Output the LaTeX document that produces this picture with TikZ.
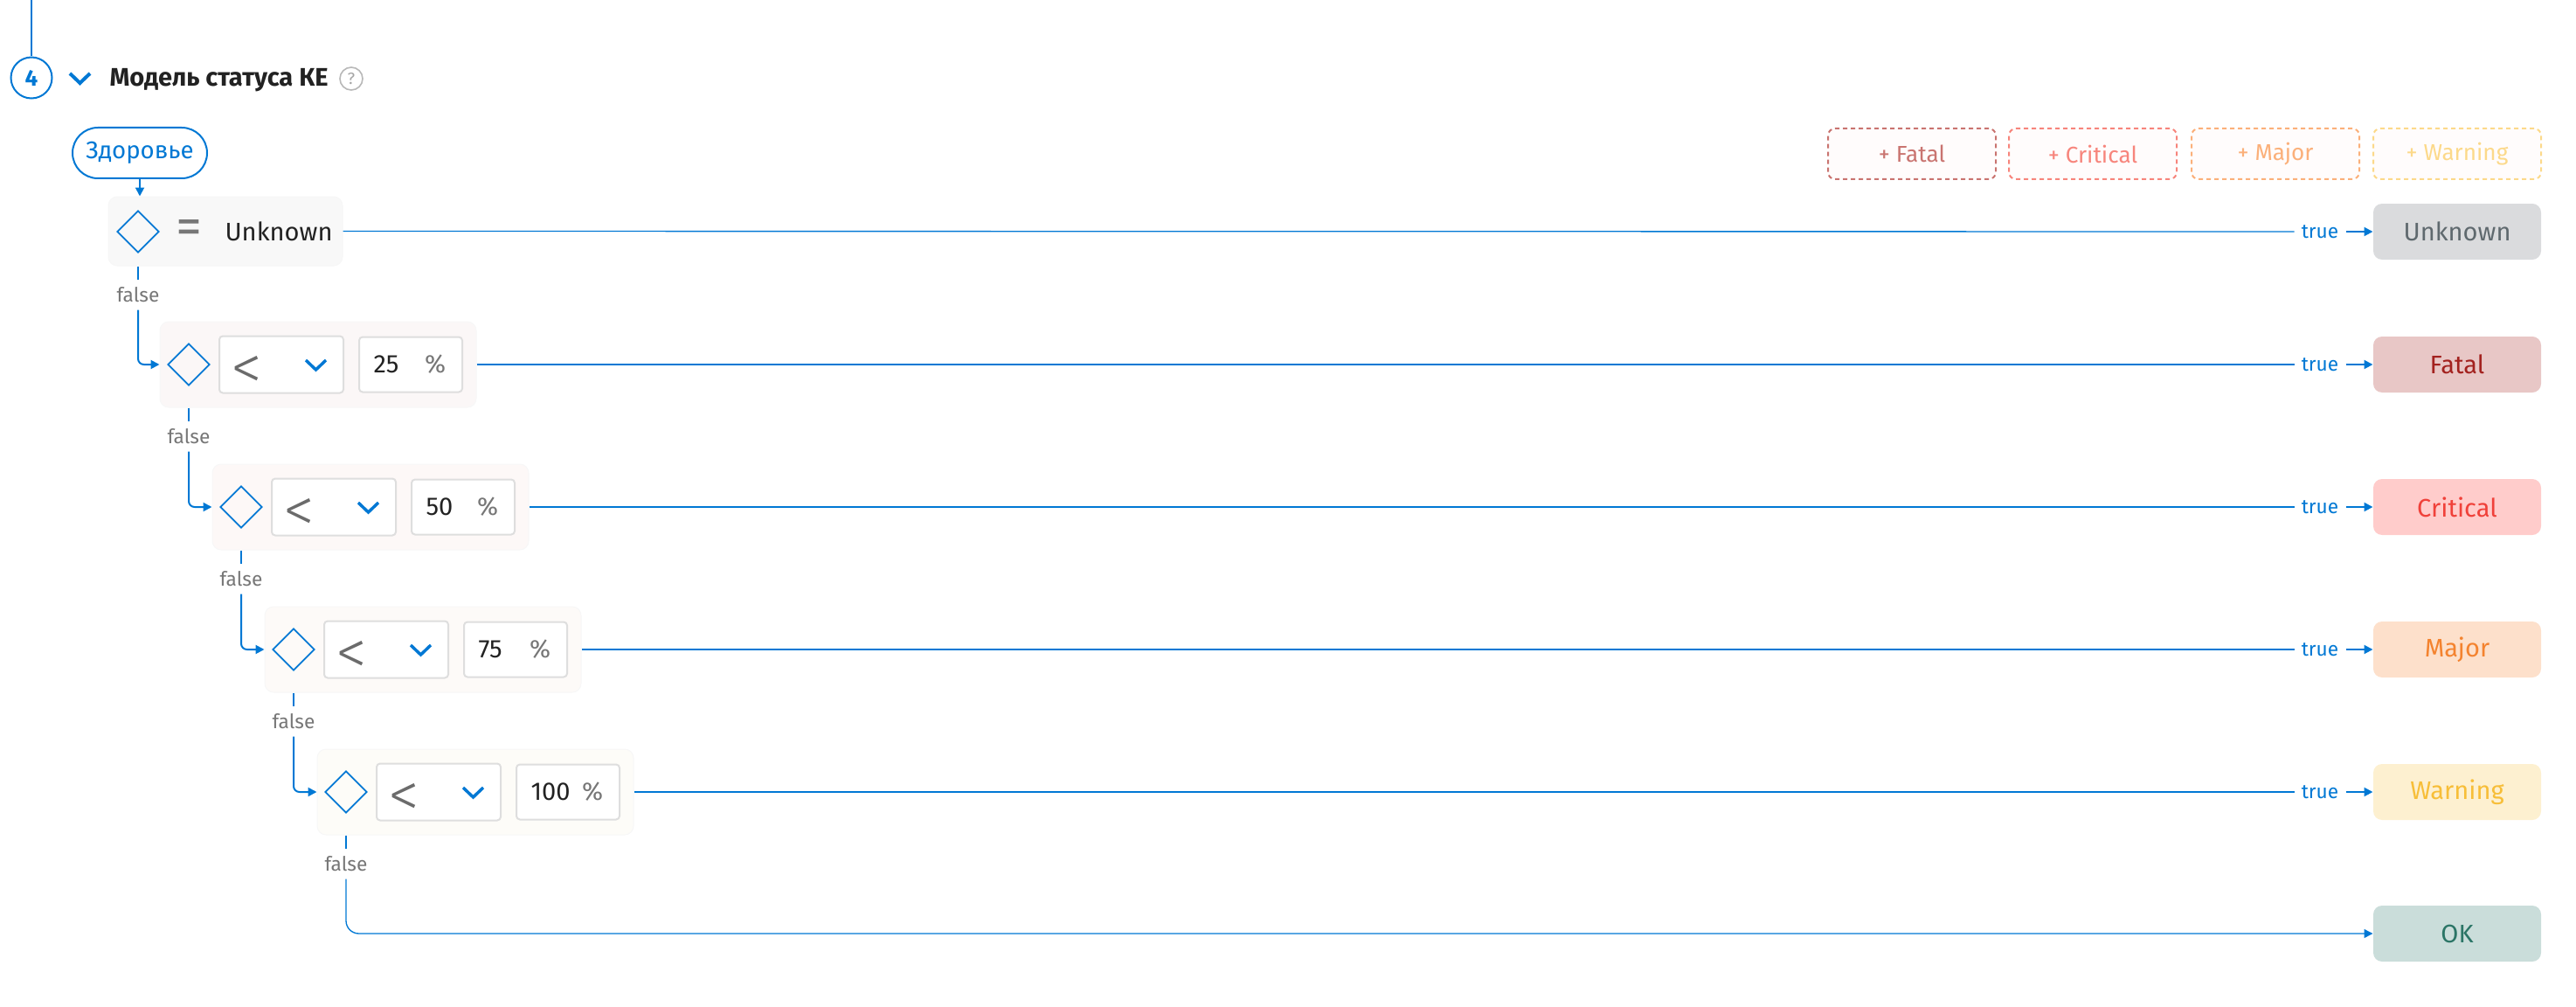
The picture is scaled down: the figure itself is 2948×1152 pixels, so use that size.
\documentclass[tikz,border=0pt]{standalone}
\usepackage{fontspec}
\setmainfont{Fira Sans}
\newfontfamily\lightfont{Fira Sans Light}
\usetikzlibrary{arrows.meta,shapes.geometric}

\definecolor{uiblue}{RGB}{0,120,212}
\definecolor{uitext}{RGB}{34,34,34}
\definecolor{uigray}{RGB}{119,119,119}
\definecolor{uiline}{RGB}{222,222,222}
\definecolor{unkfill}{RGB}{218,219,221}
\definecolor{unktext}{RGB}{95,105,110}
\definecolor{fatfill}{RGB}{232,199,198}
\definecolor{fattext}{RGB}{163,34,31}
\definecolor{crifill}{RGB}{255,204,203}
\definecolor{critext}{RGB}{240,65,58}
\definecolor{majfill}{RGB}{253,224,203}
\definecolor{majtext}{RGB}{244,131,47}
\definecolor{warfill}{RGB}{253,240,208}
\definecolor{wartext}{RGB}{247,190,56}
\definecolor{okfill}{RGB}{202,221,218}
\definecolor{oktext}{RGB}{43,117,102}
\definecolor{fatdash}{RGB}{201,116,112}
\definecolor{cridash}{RGB}{247,133,124}
\definecolor{majdash}{RGB}{251,176,122}
\definecolor{wardash}{RGB}{252,217,138}
\definecolor{row0}{RGB}{248,248,248}
\definecolor{row1}{RGB}{251,247,247}
\definecolor{row2}{RGB}{253,248,247}
\definecolor{row3}{RGB}{253,250,248}
\definecolor{row4}{RGB}{253,252,248}

\tikzset{every picture/.style={line width=0.75pt}}
\tikzset{
  lbl/.style={font=\fontsize{17}{20}\selectfont, inner sep=0pt, minimum height=25.5pt},
  falselbl/.style={lbl, text=uigray},
  truelbl/.style={lbl, text=uiblue, minimum width=43.5pt},
  flowline/.style={draw=uiblue, line width=1.5pt},
  thinline/.style={draw=uiblue, line width=1pt},
  flowarrow/.style={flowline, -{Triangle[length=7.5pt,width=7.5pt]}},
  condbox/.style={draw=black!3, fill=#1, rounded corners=7.5pt, minimum width=271.5pt, minimum height=73.5pt},
  dia/.style={diamond, draw=uiblue, line width=1.3pt, minimum width=36pt, minimum height=36pt, inner sep=0pt},
  selbox/.style={draw=uiline, fill=white, line width=1.5pt, rounded corners=3pt, minimum width=106.5pt, minimum height=48.75pt},
  valbox/.style={draw=uiline, fill=white, line width=1.5pt, rounded corners=3pt, minimum width=88.5pt, minimum height=47.25pt},
  valtxt/.style={anchor=west, inner sep=0pt, text=uitext, font=\fontsize{21.8}{26}\selectfont},
  pcttxt/.style={inner sep=0pt, text=uigray, font=\fontsize{21.8}{26}\selectfont},
  eqtxt/.style={inner sep=0pt, text=uigray, font=\fontsize{45}{50}\selectfont},
  optxt/.style={inner sep=0pt, text=black!58, font=\lightfont\fontsize{54}{58}\selectfont},
  chev/.style={draw=uiblue, line width=2.6pt},
  statbox/.style 2 args={fill=#1, text=#2, rounded corners=7.5pt, minimum width=144pt, minimum height=48pt, font=\fontsize{21.8}{26}\selectfont},
  addbtn/.style={draw=#1, text=#1, fill=red!1, dash pattern=on 3.75pt off 3pt, line width=1.5pt, rounded corners=6pt, minimum width=144pt, minimum height=43.5pt, font=\fontsize{19.6}{24}\selectfont},
}

\begin{document}
\begin{tikzpicture}[x=0.75pt,y=0.75pt,yscale=-1,xscale=1]
	\useasboundingbox (0,0) rectangle (2948,1152);

	%Header: step number, chevron, title
	\coordinate (top) at (36,0);
	\node[circle, draw=uiblue, line width=1.5pt, minimum size=35.25pt, inner sep=0pt, text=uiblue, font=\bfseries\fontsize{19.5}{22}\selectfont] (step4) at (36,89) {4};
	\draw[draw=uiblue, line width=1.1pt] (top) -- (step4.north);
	\draw[chev, line width=3pt] (80,84) -- (91.5,95) -- (103,84);
	% Text Node
	\node[anchor=base west, inner sep=0pt, text=uitext, font=\bfseries\fontsize{21.8}{26}\selectfont] (title) at (125,99) {Модель статуса КЕ};
	\node[circle, draw=black!28, line width=1.2pt, minimum size=19.5pt, inner sep=0pt, text=black!35, font=\fontsize{14}{16}\selectfont] (help) at (402,90) {?};

	%Buttons: add status
	\node[addbtn=fatdash] (addfat) at (2188,176) {+ Fatal};
	\node[addbtn=cridash] (addcri) at (2395,176) {+ Critical};
	\node[addbtn=majdash] (addmaj) at (2604,176) {+ Major};
	\node[addbtn=wardash] (addwar) at (2812,176) {+ Warning};

	%Source metric
	\node[draw=uiblue, fill=white, line width=1.5pt, rounded corners=21.75pt, minimum width=115.5pt, minimum height=43.5pt, text=uiblue, font=\fontsize{20.7}{24}\selectfont] (zdr) at (160,175) {Здоровье};

	%Row 0: = Unknown
	\node[condbox=row0, minimum width=201pt, minimum height=59.25pt] (c0) at (258,264.5) {};
	\node[dia] (d0) at (158,265) {};
	\node[eqtxt] (eq0) at (216,266) {=};
	\node[valtxt] (v0) at (257,265) {Unknown};

	%Row 1: < 25 %
	\node[condbox=row1] (c1) at (364,417) {};
	\node[dia] (d1) at (216,417) {};
	\node[selbox] (sel1) at (322,417) {};
	\node[optxt] (op1) at (282,426) {<};
	\draw[chev] (350,412) -- (361.5,423) -- (373,412);
	\node[valbox] (val1) at (470,417) {};
	\node[valtxt] (v1) at (427,417) {25};
	\node[pcttxt] (p1) at (498,417) {\%};

	%Row 2: < 50 %
	\node[condbox=row2] (c2) at (424,580) {};
	\node[dia] (d2) at (276,580) {};
	\node[selbox] (sel2) at (382,580) {};
	\node[optxt] (op2) at (342,589) {<};
	\draw[chev] (410,575) -- (421.5,586) -- (433,575);
	\node[valbox] (val2) at (530,580) {};
	\node[valtxt] (v2) at (487,580) {50};
	\node[pcttxt] (p2) at (558,580) {\%};

	%Row 3: < 75 %
	\node[condbox=row3] (c3) at (484,743) {};
	\node[dia] (d3) at (336,743) {};
	\node[selbox] (sel3) at (442,743) {};
	\node[optxt] (op3) at (402,752) {<};
	\draw[chev] (470,738) -- (481.5,749) -- (493,738);
	\node[valbox] (val3) at (590,743) {};
	\node[valtxt] (v3) at (547,743) {75};
	\node[pcttxt] (p3) at (618,743) {\%};

	%Row 4: < 100 %
	\node[condbox=row4] (c4) at (544,906) {};
	\node[dia] (d4) at (396,906) {};
	\node[selbox] (sel4) at (502,906) {};
	\node[optxt] (op4) at (462,915) {<};
	\draw[chev] (530,901) -- (541.5,912) -- (553,901);
	\node[valbox] (val4) at (650,906) {};
	\node[valtxt] (v4) at (607,906) {100};
	\node[pcttxt] (p4) at (678,906) {\%};

	%Statuses
	\node[statbox={unkfill}{unktext}] (s0) at (2812,265) {Unknown};
	\node[statbox={fatfill}{fattext}] (s1) at (2812,417) {Fatal};
	\node[statbox={crifill}{critext}] (s2) at (2812,580) {Critical};
	\node[statbox={majfill}{majtext}] (s3) at (2812,743) {Major};
	\node[statbox={warfill}{wartext}] (s4) at (2812,906) {Warning};
	\node[statbox={okfill}{oktext}] (s5) at (2812,1068) {OK};

	% Text Node: true labels
	\node[truelbl] (t0) at (2655,265) {true};
	\node[truelbl] (t1) at (2655,417) {true};
	\node[truelbl] (t2) at (2655,580) {true};
	\node[truelbl] (t3) at (2655,743) {true};
	\node[truelbl] (t4) at (2655,906) {true};

	% Text Node: false labels
	\node[falselbl] (f0) at (158,337) {false};
	\node[falselbl] (f1) at (216,499) {false};
	\node[falselbl] (f2) at (276,662) {false};
	\node[falselbl] (f3) at (336,825) {false};
	\node[falselbl] (f4) at (396,988) {false};

	%Connectors: true branches
	\draw[thinline] (c0.east) -- (t0.west);
	\draw[flowarrow] (t0.east) -- (s0.west);
	\draw[thinline] (c1.east) -- (t1.west);
	\draw[flowarrow] (t1.east) -- (s1.west);
	\draw[thinline] (c2.east) -- (t2.west);
	\draw[flowarrow] (t2.east) -- (s2.west);
	\draw[thinline] (c3.east) -- (t3.west);
	\draw[flowarrow] (t3.east) -- (s3.west);
	\draw[thinline] (c4.east) -- (t4.west);
	\draw[flowarrow] (t4.east) -- (s4.west);

	%Connectors: false branches
	\draw[flowarrow] (zdr.south) -- (zdr.south |- c0.north);
	\draw[flowline] (d0 |- c0.south) -- (f0.north);
	\draw[flowarrow, rounded corners=5pt] (f0.south) |- (c1.west);
	\draw[flowline] (d1 |- c1.south) -- (f1.north);
	\draw[flowarrow, rounded corners=5pt] (f1.south) |- (c2.west);
	\draw[flowline] (d2 |- c2.south) -- (f2.north);
	\draw[flowarrow, rounded corners=5pt] (f2.south) |- (c3.west);
	\draw[flowline] (d3 |- c3.south) -- (f3.north);
	\draw[flowarrow, rounded corners=5pt] (f3.south) |- (c4.west);
	\draw[flowline] (d4 |- c4.south) -- (f4.north);
	\draw[flowarrow, thinline, rounded corners=11pt] (f4.south) |- (s5.west);

\end{tikzpicture}
\end{document}
